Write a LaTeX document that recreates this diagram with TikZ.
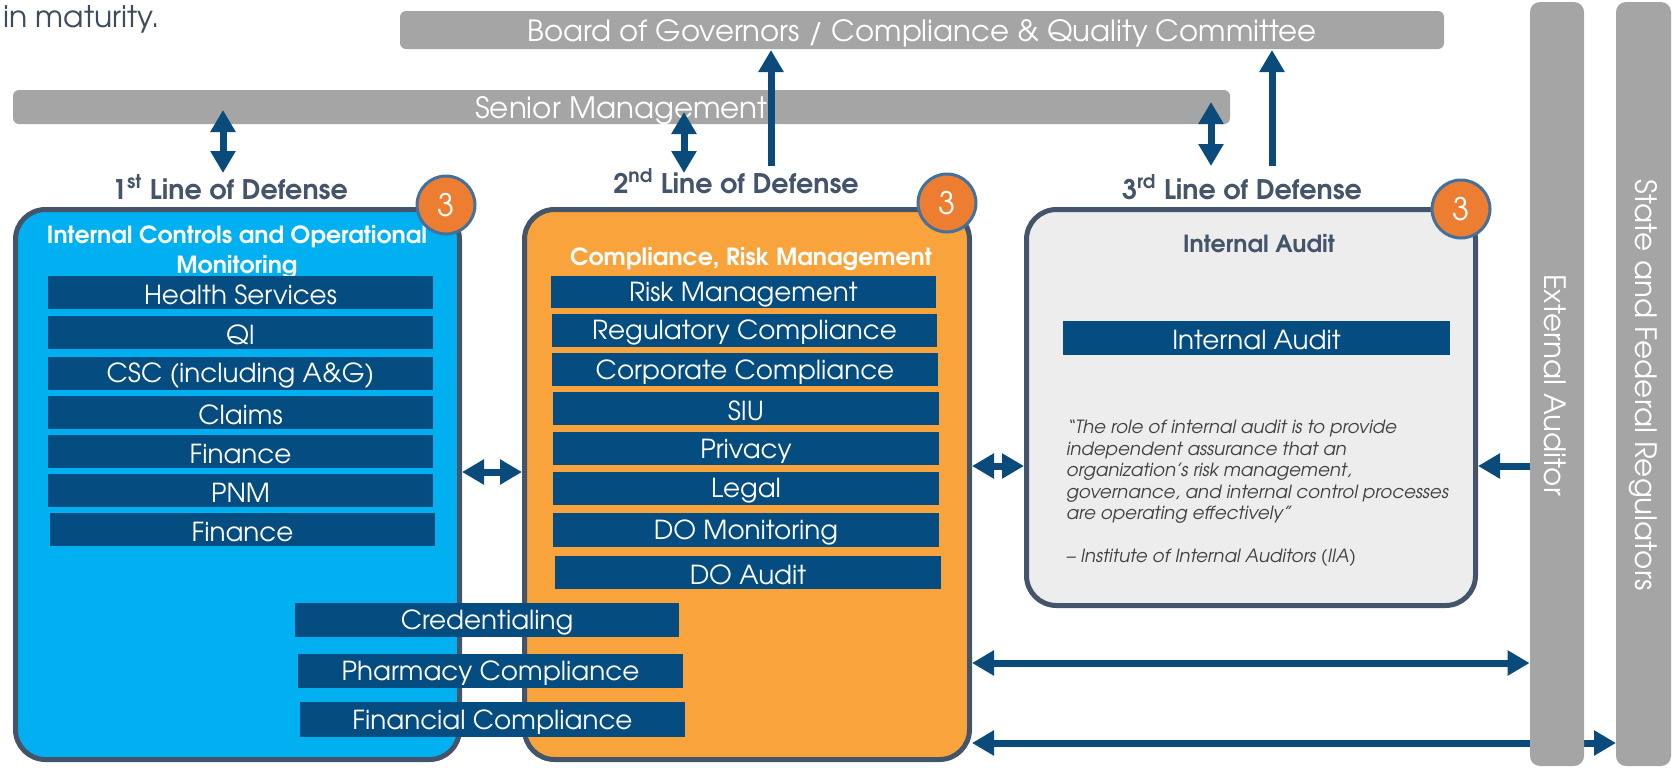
\documentclass[tikz,border=0pt]{standalone}
\usepackage{graphicx}
\usepackage{fontspec}
\setmainfont{texgyreadventor}[Extension=.otf, UprightFont=*-regular, BoldFont=*-bold, ItalicFont=*-italic, BoldItalicFont=*-bolditalic]
\usetikzlibrary{arrows.meta,fit}
\definecolor{rowblue}{HTML}{054C80}
\definecolor{arrblue}{HTML}{0B4B7C}
\definecolor{lightblue}{HTML}{00B0F0}
\definecolor{orangebox}{HTML}{F8A33B}
\definecolor{graybox}{HTML}{EDEDED}
\definecolor{bordercol}{HTML}{44546A}
\definecolor{bargray}{HTML}{A5A5A5}
\definecolor{badgeor}{HTML}{ED7D31}
\definecolor{badgeline}{HTML}{41719C}
\definecolor{quotecol}{HTML}{404040}
\definecolor{topcol}{HTML}{3E4B5C}
\begin{document}
\begin{tikzpicture}[x=0.5pt,y=-0.5pt,
  lod/.style={draw=bordercol, line width=2.5pt, rounded corners=15pt, inner sep=0pt},
  row/.style={fill=rowblue, inner sep=0pt},
  rowtxt/.style={text=white, inner sep=0pt, yshift=-1.2pt, font=\fontsize{13.1}{15}\selectfont},
  bar/.style={fill=bargray, inner sep=0pt},
  bartxt/.style={text=white, inner sep=0pt, font=\fontsize{14.7}{17}\selectfont},
  badge/.style={circle, fill=badgeor, draw=badgeline, line width=1.5pt, minimum size=29pt, inner sep=0pt, text=white, font=\fontsize{15.5}{18}\selectfont},
  hdr/.style={text=bordercol, inner sep=0pt, font=\bfseries\fontsize{13.5}{16}\selectfont},
  ttl/.style={text=white, inner sep=0pt, align=center, font=\bfseries\fontsize{11.8}{14}\selectfont},
  arr/.style={draw=arrblue, line width=3.5pt, -{Triangle[length=11pt,width=12pt]}},
  dbl/.style={draw=arrblue, line width=3.5pt, {Triangle[length=11pt,width=12pt]}-{Triangle[length=11pt,width=12pt]}}
]
\useasboundingbox (0,0) rectangle (1672,767);

% top stray text
\node[anchor=base west, inner sep=0pt, text=topcol, font=\fontsize{14.9}{17}\selectfont] (topline) at (3,27) {in maturity.};

% bars
\node[bar, rounded corners=3pt, fit={(400,11) (1444,49)}] (board) {};
\node[bartxt, yshift=-1.5pt, font=\fontsize{14.6}{17}\selectfont] (boardt) at (board.center) {Board of Governors / Compliance \& Quality Committee};
\node[bar, rounded corners=3pt, fit={(13,90) (1230,124)}] (sm) {};
\node[bartxt, yshift=-2pt] (smt) at (sm.center) {Senior Management};

% boxes
\node[lod, fill=lightblue, fit={(15.5,209.5) (459.5,759.5)}] (box1) {};
\node[lod, fill=orangebox, fit={(524.5,209.5) (969.5,759.5)}] (box2) {};
\node[lod, fill=graybox, fit={(1026.5,209.5) (1475.5,605.5)}] (box3) {};

% box titles
\node[ttl] (t1) at (237,252) {Internal Controls and Operational\\[1.2pt]Monitoring};
\node[ttl] (t2) at (751,259) {Compliance, Risk Management};
\node[ttl, text=bordercol] (t3) at (1259,244) {Internal Audit};

% rows
\foreach \nm/\xa/\ya/\xb/\yb/\txt in {
  r11/48/276/433/309/Health Services,
  r12/48/316/433/349/QI,
  r13/48/357/433/390/CSC (including A\&G),
  r14/48/396/433/429/Claims,
  r15/48/435/433/468/Finance,
  r16/48/474/433/507/PNM,
  r17/50/513/435/546/Finance,
  r21/551/276/936/308/Risk Management,
  r22/552/314/937/347/Regulatory Compliance,
  r23/552/353/938/386/Corporate Compliance,
  r24/553/392/939/425/SIU,
  r25/553/432/939/465/Privacy,
  r26/553/472/939/505/Legal,
  r27/553/513/939/547/DO Monitoring,
  r28/555/556/941/589/DO Audit,
  w1/295/603/679/637/Credentialing,
  w2/298/654/683/688/Pharmacy Compliance,
  w3/300/702/685/737/Financial Compliance,
  r31/1063/321/1450/355/Internal Audit}
{
  \node[row, fit={(\xa,\ya) (\xb,\yb)}] (\nm) {};
  \node[rowtxt] (\nm t) at (\nm.center) {\txt};
}

% quote
\node[anchor=north west, inner sep=0pt, align=left, text=quotecol, font=\itshape\fontsize{9.1}{10.75}\selectfont] (quote) at (1066,420)
{“The role of internal audit is to provide\\
independent assurance that an\\
organization’s risk management,\\
governance, and internal control processes\\
are operating effectively”\\[10.75pt]
– Institute of Internal Auditors (IIA)};

% headers
\node[hdr] (h1) at (230,187) {1\textsuperscript{st} Line of Defense};
\node[hdr] (h2) at (736,181) {2\textsuperscript{nd} Line of Defense};
\node[hdr] (h3) at (1242,187) {3\textsuperscript{rd} Line of Defense};

% badges
\node[badge] (b1) at (446,205) {3};
\node[badge] (b2) at (947,203) {3};
\node[badge] (b3) at (1461,209) {3};

% vertical arrows
\coordinate (v1a) at (223,110); \coordinate (v1b) at (223,173);
\coordinate (v2a) at (684,112); \coordinate (v2b) at (684,173);
\coordinate (v3a) at (771,166); \coordinate (v3b) at (771,50);
\coordinate (v4a) at (1211,102); \coordinate (v4b) at (1211,166);
\coordinate (v5a) at (1272,166); \coordinate (v5b) at (1272,50);
\draw[dbl] (v1a) -- (v1b);
\draw[dbl] (v2a) -- (v2b);
\draw[arr] (v3a) -- (v3b);
\draw[dbl] (v4a) -- (v4b);
\draw[arr] (v5a) -- (v5b);

% horizontal arrows
\draw[dbl] (box1.east |- 0,472) -- (box2.west |- 0,472);
\draw[dbl] (box2.east |- 0,466) -- (box3.west |- 0,466);
\draw[dbl] (box2.east |- 0,743) -- (1616,743) coordinate (regin);

% side bars
\node[bar, rounded corners=5pt, fit={(1530,2) (1584,766)}] (ext) {};
\node[bar, rounded corners=5pt, fit={(1616,2) (1671,766)}] (reg) {};
\node[bartxt, rotate=-90] (extt) at (1555,385) {External Auditor};
\node[bartxt, rotate=-90] (regt) at (1643,385) {State and Federal Regulators};

\draw[arr] (ext.west |- 0,466) -- (box3.east |- 0,466);
\draw[dbl] (box2.east |- 0,663) -- (ext.west |- 0,663);
\end{tikzpicture}
\end{document}
